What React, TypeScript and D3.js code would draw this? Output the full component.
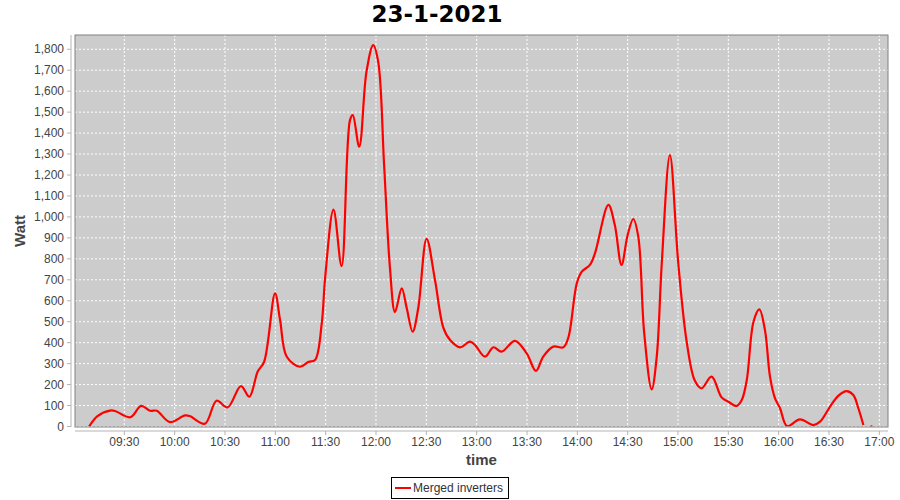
import React from "react";
import * as d3 from "d3";

const chartTitle = "23-1-2021";
const seriesName = "Merged inverters";
const yAxisLabel = "Watt";
const xAxisLabel = "time";

const times = [
  "09:09:00", "09:14:00", "09:21:30", "09:24:30", "09:33:30", "09:40:00", "09:45:20", "09:49:20",
  "09:57:10", "10:06:10", "10:09:00", "10:18:00", "10:25:00", "10:31:30", "10:39:30", "10:44:30",
  "10:49:30", "10:53:20", "10:59:50", "11:02:50", "11:06:50", "11:14:40", "11:19:40", "11:23:40",
  "11:27:40", "11:29:40", "11:34:40", "11:39:30", "11:44:30", "11:46:10", "11:50:00", "11:54:20",
  "11:58:20", "12:01:20", "12:04:50", "12:08:20", "12:11:20", "12:15:20", "12:18:20", "12:21:50",
  "12:25:10", "12:30:10", "12:35:10", "12:40:10", "12:44:10", "12:50:10", "12:56:00", "12:59:00",
  "13:05:00", "13:10:00", "13:14:50", "13:22:50", "13:29:50", "13:35:20", "13:39:40", "13:45:40",
  "13:51:40", "13:54:40", "13:59:40", "14:02:40", "14:07:30", "14:10:30", "14:18:30", "14:22:20",
  "14:26:20", "14:30:00", "14:33:20", "14:36:20", "14:39:50", "14:44:20", "14:47:20", "14:50:20",
  "14:55:10", "15:00:10", "15:05:10", "15:10:00", "15:14:00", "15:20:00", "15:26:00", "15:30:00",
  "15:35:00", "15:38:00", "15:41:00", "15:45:00", "15:48:30", "15:51:50", "15:54:50", "15:57:50",
  "16:00:50", "16:05:00", "16:12:40", "16:20:40", "16:24:40", "16:30:40", "16:35:30", "16:40:30",
  "16:44:30", "16:47:30", "16:50:30",
];

const watts = [
  0, 50, 76, 74, 44, 98, 75, 75,
  21, 53, 50, 13, 123, 91, 193, 142,
  262, 309, 635, 508, 333, 285, 308, 317,
  492, 707, 1035, 765, 1462, 1486, 1335, 1693,
  1820, 1740, 1248, 756, 546, 659, 564, 452,
  564, 895, 699, 471, 413, 378, 405, 389,
  333, 378, 357, 409, 349, 265, 333, 381,
  378, 425, 683, 739, 771, 826, 1057, 961,
  771, 914, 990, 906, 448, 177, 333, 779,
  1295, 779, 405, 219, 182, 238, 139, 118,
  98, 126, 222, 500, 559, 460, 238, 134,
  87, 2, 34, 7, 23, 95, 146, 169,
  150, 87, 7,
];

const lastDotTime = "16:55:20";
const lastDotWatt = 0;

const yTickValues = [0, 100, 200, 300, 400, 500, 600, 700, 800, 900, 1000, 1100, 1200, 1300, 1400, 1500, 1600, 1700, 1800];
const xTickLabels = ["09:30", "10:00", "10:30", "11:00", "11:30", "12:00", "12:30", "13:00", "13:30", "14:00", "14:30", "15:00", "15:30", "16:00", "16:30", "17:00"];

const W = 900;
const H = 500;
const P = { left: 75, right: 888, top: 35, bottom: 427 };

const parse = d3.timeParse("%Y-%m-%d %H:%M:%S");
const toDate = (s: string) => parse("2021-01-23 " + (s.length === 5 ? s + ":00" : s)) as Date;

export default function App() {
  const x = d3.scaleTime().domain([toDate("09:00:36"), toDate("17:05:10")]).range([P.left, P.right]);
  const y = d3.scaleLinear().domain([0, 1868]).range([426.5, P.top]);
  const fmtY = d3.format(",");
  const fmtX = d3.timeFormat("%H:%M");

  const data = times.map((t, i) => ({ t: toDate(t), v: watts[i] }));
  const line = d3
    .line<{ t: Date; v: number }>()
    .x((d) => x(d.t))
    .y((d) => y(d.v))
    .curve(d3.curveCatmullRom.alpha(0.5));

  const xTicks = xTickLabels.map(toDate);
  const tickFont = "'Liberation Sans', Arial, sans-serif";

  return (
    <svg width={W} height={H} style={{ position: "absolute", left: 0, top: 0, background: "#fff" }}>
      <defs>
        <clipPath id="plotclip">
          <rect x={P.left} y={P.top} width={P.right - P.left} height={P.bottom - P.top - 0.5} />
        </clipPath>
      </defs>
      <rect x={0} y={0} width={W} height={H} fill="#ffffff" />
      <text x={437} y={22} textAnchor="middle" fontFamily="'DejaVu Sans', sans-serif" fontWeight="bold" fontSize={23} fill="#000">
        {chartTitle}
      </text>

      {/* plot background */}
      <rect x={P.left} y={P.top} width={P.right - P.left} height={P.bottom - P.top} fill="#cccccc" />

      {/* grid */}
      {yTickValues.map((v) => (
        <line key={"gy" + v} x1={P.left} x2={P.right} y1={y(v)} y2={y(v)} stroke="#ffffff" strokeWidth={1} strokeDasharray="2,2" />
      ))}
      {xTicks.map((d, i) => (
        <line key={"gx" + i} x1={x(d)} x2={x(d)} y1={P.top} y2={P.bottom} stroke="#ffffff" strokeWidth={1} strokeDasharray="2,2" />
      ))}

      {/* series */}
      <g clipPath="url(#plotclip)">
        <path d={line(data) || ""} fill="none" stroke="#ff0000" strokeWidth={2.2} strokeLinejoin="round" />
        <circle cx={x(toDate(lastDotTime))} cy={y(lastDotWatt)} r={1.2} fill="#ff0000" />
      </g>

      {/* plot border */}
      <rect x={P.left} y={P.top} width={P.right - P.left} height={P.bottom - P.top} fill="none" stroke="#808080" strokeWidth={1} />

      {/* y axis */}
      <line x1={71} x2={71} y1={P.top} y2={P.bottom} stroke="#b4b4b4" />
      {yTickValues.map((v) => (
        <g key={"ty" + v}>
          <line x1={67} x2={71} y1={y(v)} y2={y(v)} stroke="#b4b4b4" />
          <text x={64} y={y(v)} dy="0.35em" textAnchor="end" fontFamily={tickFont} fontSize={12} fill="#444">
            {fmtY(v)}
          </text>
        </g>
      ))}
      <text
        transform={`translate(25,${(P.top + P.bottom) / 2}) rotate(-90)`}
        textAnchor="middle"
        fontFamily={tickFont}
        fontWeight="bold"
        fontSize={15}
        fill="#444"
      >
        {yAxisLabel}
      </text>

      {/* x axis */}
      <line x1={P.left} x2={P.right} y1={431} y2={431} stroke="#b4b4b4" />
      {xTicks.map((d, i) => (
        <g key={"tx" + i}>
          <line x1={x(d)} x2={x(d)} y1={431} y2={435} stroke="#b4b4b4" />
          <text x={x(d)} y={446} textAnchor="middle" fontFamily={tickFont} fontSize={12} fill="#444">
            {fmtX(d)}
          </text>
        </g>
      ))}
      <text x={(P.left + P.right) / 2} y={465} textAnchor="middle" fontFamily={tickFont} fontWeight="bold" fontSize={15} fill="#444">
        {xAxisLabel}
      </text>

      {/* legend */}
      <rect x={391.5} y={477.5} width={117} height={21} fill="#fff" stroke="#000" strokeWidth={1} />
      <line x1={395} x2={411} y1={488} y2={488} stroke="#ff0000" strokeWidth={2} />
      <text x={413} y={492} fontFamily={tickFont} fontSize={12} fill="#333">
        {seriesName}
      </text>
    </svg>
  );
}
